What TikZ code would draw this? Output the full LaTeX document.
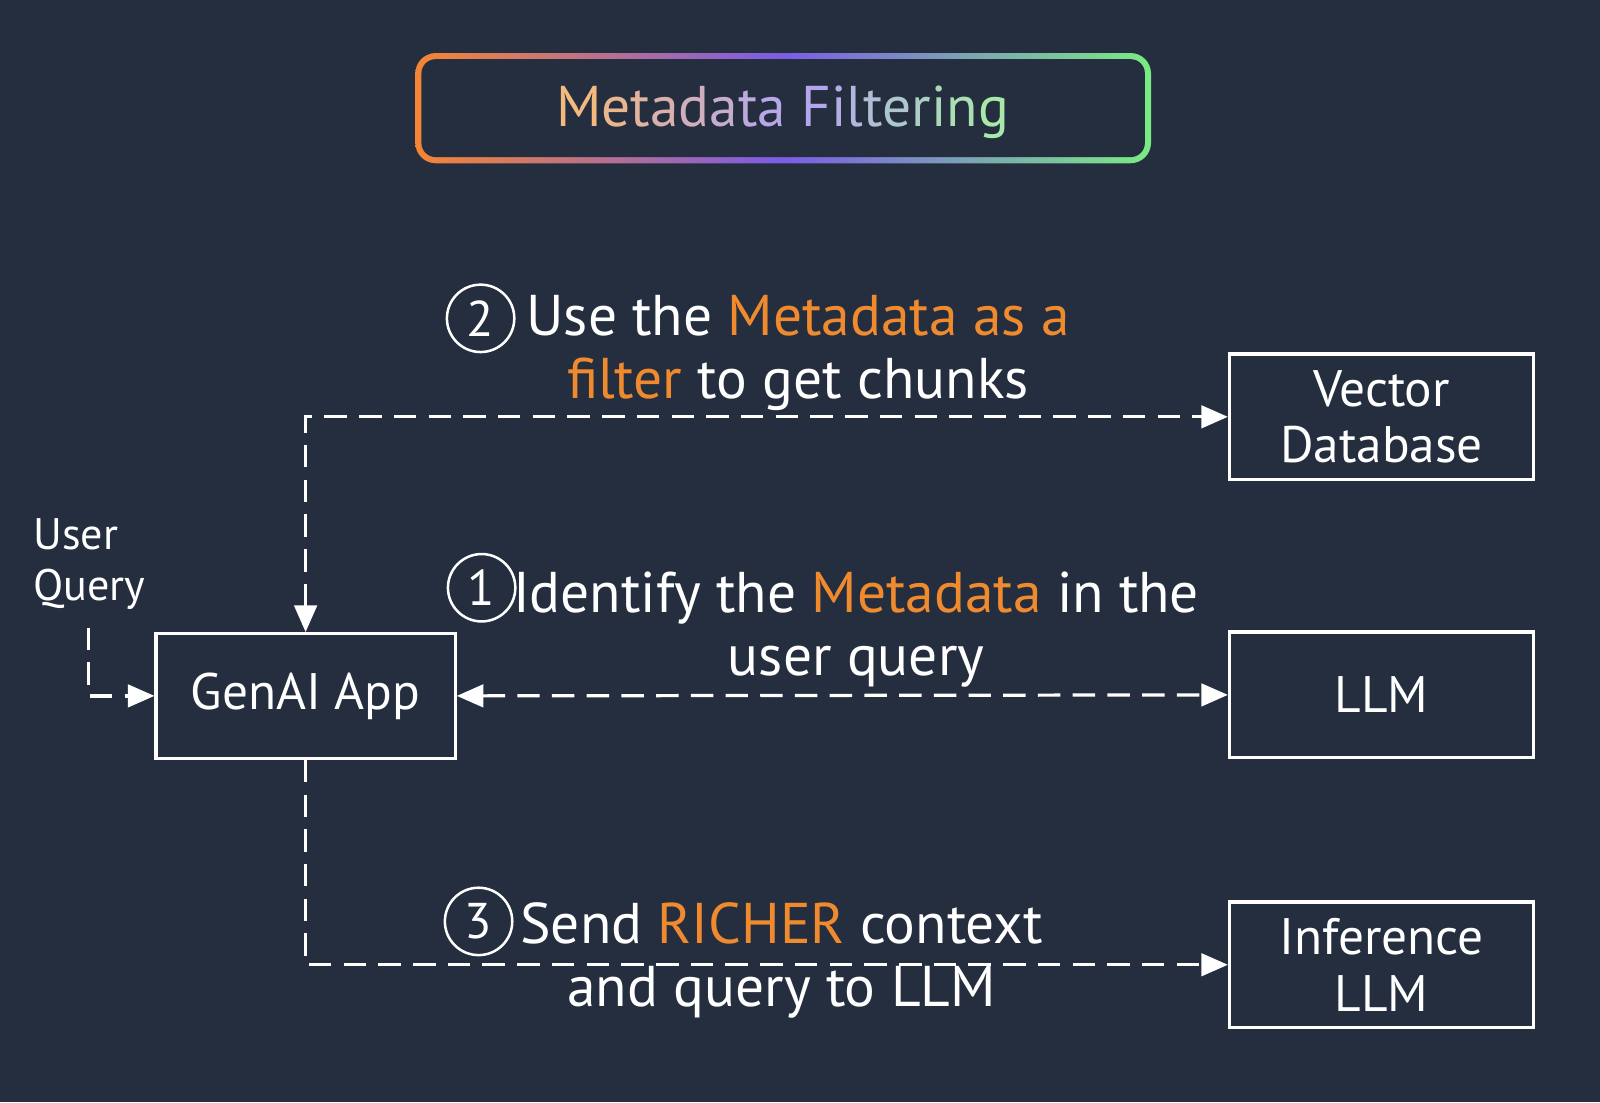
\documentclass[tikz,border=0pt]{standalone}
\usepackage{fontspec}
\setmainfont{PT Sans}
\usetikzlibrary{arrows.meta}
\definecolor{bg}{HTML}{242E3E}
\definecolor{aorange}{HTML}{F08A2E}
\definecolor{gorange}{HTML}{F58534}
\definecolor{gpurple}{HTML}{7B5CE6}
\definecolor{ggreen}{HTML}{7AEB82}
\definecolor{tpeach}{HTML}{F3B97F}
\definecolor{tlav}{HTML}{B4A6EE}
\definecolor{tgreen}{HTML}{A8E8A8}
\newcommand{\hl}[1]{\textcolor{aorange}{#1}}
\newcommand{\ga}[2]{\textcolor{tlav!#1!tpeach}{#2}}
\newcommand{\gb}[2]{\textcolor{tgreen!#1!tlav}{#2}}
\begin{document}
\begin{tikzpicture}[x=0.01cm,y=-0.01cm,
  box/.style={draw=white, line width=0.9pt, fill=bg, text=white, align=center, inner sep=0pt,
    font=\fontsize{14.3}{15.8}\selectfont},
  link/.style={draw=white, line width=0.9pt, dash pattern=on 0.22cm off 0.12cm,
    -{Triangle[length=0.26cm,width=0.22cm]}},
  biglink/.style={link, {Triangle[length=0.26cm,width=0.22cm]}-{Triangle[length=0.26cm,width=0.22cm]}},
  numc/.style={circle, draw=white, line width=0.7pt, minimum size=0.66cm, inner sep=0pt, text=white,
    font=\fontsize{14}{15}\selectfont},
  lab/.style={text=white, align=center, inner sep=0pt, font=\fontsize{16}{17.6}\selectfont}]
\fill[bg] (0,0) rectangle (1568,1080);
\useasboundingbox (0,0) rectangle (1568,1080);
% title frame
\shade[left color=gorange, right color=ggreen, middle color=gpurple, rounded corners=0.2cm]
  (407,52) rectangle (1128,160);
\fill[bg, rounded corners=0.14cm] (413,58) rectangle (1122,154);
\node[inner sep=0pt, font=\fontsize{16}{18}\selectfont] (title) at (767,110)
  {\ga{0}{M}\ga{14}{e}\ga{28}{t}\ga{42}{a}\ga{57}{d}\ga{71}{a}\ga{85}{t}\ga{95}{a} \gb{0}{F}\gb{12}{i}\gb{25}{l}\gb{37}{t}\gb{50}{e}\gb{62}{r}\gb{75}{i}\gb{87}{n}\gb{100}{g}};
% boxes
\node[box, minimum width=2.93cm, minimum height=1.22cm] (genai) at (299.5,682) {GenAI App};
\node[box, minimum width=2.98cm, minimum height=1.23cm] (vdb) at (1354,408.5) {Vector\\Database};
\node[box, minimum width=2.98cm, minimum height=1.23cm] (llm) at (1354,681) {LLM};
\node[box, minimum width=2.98cm, minimum height=1.23cm] (inf) at (1354,945.5) {Inference\\LLM};
% user query
\node[text=white, align=left, anchor=north west, inner sep=0pt, font=\fontsize{12.3}{14.2}\selectfont] (uqt) at (32,508) {User\\Query};
\coordinate (uq) at (87,615);
\draw[link] (uq) -- (uq |- genai.west) -- (genai.west);
% connectors
\draw[biglink] (genai.north) -- (genai.north |- vdb.west) -- (vdb.west);
\draw[biglink] (genai.east) -- (llm.west);
\draw[link] (genai.south) -- (genai.south |- inf.west) -- (inf.west);
% labels
\node[numc] (n2) at (471,312) {2};
\node[lab] (l2) at (782,346) {Use the \hl{Metadata as a}\\\hl{filter} to get chunks};
\node[numc] (n1) at (472,576) {1};
\node[lab] (l1) at (839,617) {Identify the \hl{Metadata} in the\\user query};
\node[numc] (n3) at (469,903) {3};
\node[lab] (l3) at (766,941) {Send \hl{RICHER} context\\and query to LLM};
\end{tikzpicture}
\end{document}
